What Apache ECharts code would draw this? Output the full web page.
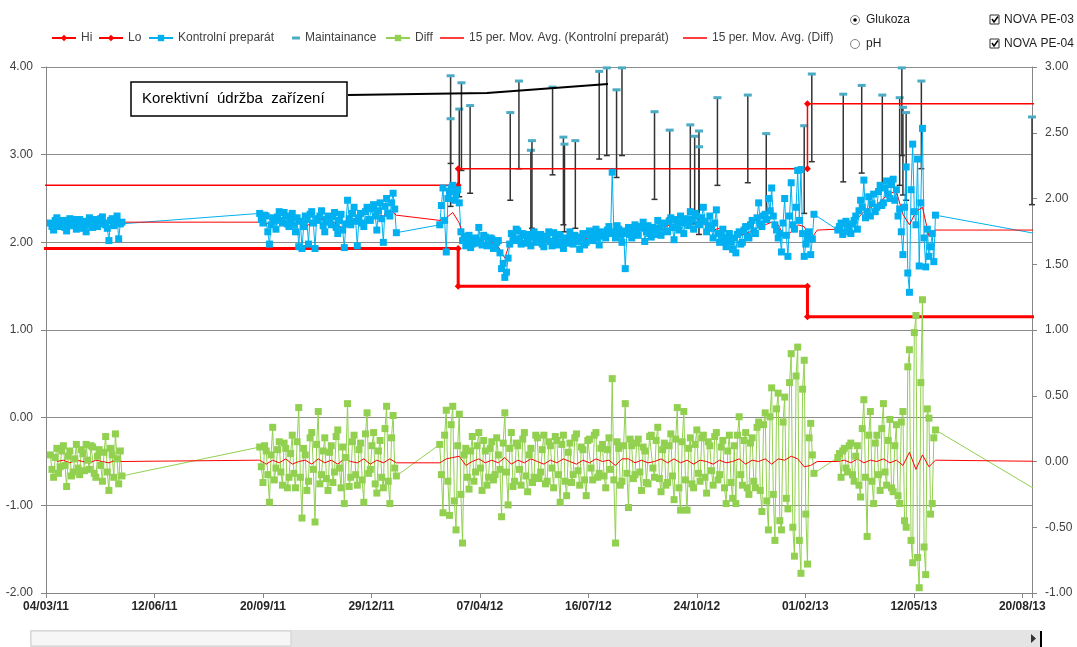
<!DOCTYPE html>
<html>
<head>
<meta charset="utf-8">
<script src="https://cdn.jsdelivr.net/npm/echarts@6/dist/echarts.min.js"></script>
<style>
  html, body { margin: 0; padding: 0; background: #fff; }
  #chart { width: 1077px; height: 647px; }
</style>
</head>
<body>
<div id="chart"></div>
<script>
// x is counted in days from the first axis tick (04/03/11)
const AXIS_START = '2011-03-04';
const AXIS_END = '2013-08-29';
const TICK_DAYS = 100;

// readings: one value every READ_STEP days, per measuring campaign
const READ_STEP = 1.5;
const readStarts = ['2011-03-08', '2011-09-17', '2012-03-01', '2013-03-03'];
const kp1 = [2.22, 2.18, 2.14, 2.25, 2.28, 2.21, 2.18, 2.24, 2.25, 2.17, 2.13, 2.22, 2.27, 2.19, 2.20, 2.26, 2.15, 2.21, 2.26, 2.16,
  2.19, 2.24, 2.12, 2.20, 2.28, 2.23, 2.17, 2.26, 2.25, 2.18, 2.21, 2.27, 2.29, 2.22, 2.20, 2.16, 2.02, 2.25, 2.27, 2.19,
  2.24, 2.30, 2.04, 2.21, 2.23];
const kp2 = [2.33, 2.26, 2.22, 2.31, 2.30, 2.12, 1.98, 2.20, 2.28, 2.24, 2.15, 2.29, 2.35, 2.25, 2.22, 2.34, 2.30, 2.21, 2.18, 2.27,
  2.33, 2.20, 2.12, 2.28, 1.95, 2.24, 1.93, 2.18, 2.30, 2.26, 1.98, 2.32, 2.35, 2.22, 1.93, 2.27, 2.25, 2.30, 2.36, 2.19,
  2.12, 2.26, 2.30, 2.23, 2.20, 2.29, 2.34, 2.17, 2.10, 2.25, 2.32, 2.14, 1.94, 2.21, 2.48, 2.27, 2.20, 2.33, 2.40, 2.24,
  1.96, 2.28, 2.33, 2.22, 2.18, 2.35, 2.40, 2.26, 2.25, 2.38, 2.43, 2.30, 2.14, 2.36, 2.45, 2.27, 2.00, 2.41, 2.50, 2.33,
  2.30, 2.45, 2.56, 2.38, 2.11];
const kp3 = [2.20, 2.42, 2.62, 2.25, 1.89, 2.50, 2.58, 2.62, 2.65, 2.48, 2.55, 2.60, 2.45, 2.12, 2.02, 2.07, 1.96, 2.01, 2.08, 1.94,
  1.98, 2.03, 2.05, 1.99, 2.17, 2.02, 1.97, 2.08, 2.06, 1.96, 1.99, 2.05, 2.04, 1.93, 1.95, 2.00, 2.02, 1.88, 1.70, 1.76,
  1.60, 1.66, 1.82, 1.98, 2.10, 2.05, 2.02, 2.15, 2.13, 2.04, 1.98, 2.10, 2.08, 1.99, 2.03, 2.09, 1.96, 2.06, 2.12, 2.01,
  2.00, 2.06, 2.09, 1.98, 1.95, 2.04, 2.07, 2.12, 2.01, 1.96, 2.11, 2.03, 1.97, 2.09, 2.08, 2.00, 1.93, 2.04, 2.05, 1.99,
  2.12, 2.04, 1.98, 2.08, 2.06, 2.01, 1.92, 2.05, 2.10, 1.97, 2.00, 2.09, 2.13, 2.06, 2.02, 2.11, 2.15, 2.05, 1.97, 2.08,
  2.12, 2.07, 2.05, 2.14, 2.18, 2.10, 2.80, 2.12, 2.05, 2.19, 2.15, 2.08, 2.00, 2.13, 1.70, 2.10, 2.17, 2.09, 2.05, 2.14,
  2.20, 2.11, 2.08, 2.18, 2.16, 2.23, 2.01, 2.12, 2.19, 2.10, 2.06, 2.17, 2.14, 2.09, 2.25, 2.16, 2.08, 2.21, 2.22, 2.13,
  2.12, 2.24, 2.28, 2.17, 2.03, 2.26, 2.20, 2.14, 2.30, 2.22, 2.10, 2.27, 2.25, 2.19, 2.35, 2.26, 2.15, 2.33, 2.30, 2.21,
  2.20, 2.28, 2.40, 2.24, 2.12, 2.19, 2.30, 2.16, 2.05, 2.22, 2.37, 2.10, 2.00, 2.08, 2.15, 2.02, 1.95, 2.06, 2.10, 2.00,
  1.92, 2.05, 1.88, 2.09, 2.12, 1.98, 2.00, 2.14, 2.18, 2.07, 2.05, 2.20, 2.25, 2.13, 2.10, 2.28, 2.45, 2.21, 2.18, 2.30,
  2.32, 2.26, 2.50, 2.36, 2.62, 2.30, 2.20, 2.14, 2.05, 2.10, 1.89, 2.22, 2.50, 2.08, 1.84, 2.30, 2.68, 2.20, 2.15, 2.40,
  2.82, 2.25, 2.83, 2.10, 1.84, 1.98, 2.05, 2.12, 1.86, 2.04, 2.32];
const kp4 = [2.14, 2.18, 2.22, 2.09, 2.12, 2.24, 2.20, 2.13, 2.10, 2.21, 2.25, 2.30, 2.15, 2.36, 2.48, 2.40, 2.71, 2.28, 2.35, 2.52,
  2.30, 2.44, 2.55, 2.35, 2.40, 2.58, 2.65, 2.42, 2.45, 2.62, 2.70, 2.55, 2.50, 2.66, 2.72, 2.48, 2.60, 2.30, 2.38, 2.12,
  1.86, 2.40, 2.86, 1.65, 1.43, 2.60, 3.12, 2.35, 2.20, 2.95, 1.73, 2.45, 3.30, 2.05, 1.72, 2.15, 1.84, 1.95, 2.10, 1.78,
  2.31];

const diff1 = [0.05, -0.06, -0.12, 0.03, 0.10, -0.09, -0.04, 0.08, 0.12, -0.03, -0.19, 0.04, 0.08, -0.11, -0.08, 0.02, 0.13, -0.05, -0.10, 0.09,
  0.06, -0.07, 0.13, 0.01, -0.06, 0.12, 0.11, -0.09, -0.12, 0.04, 0.09, -0.03, -0.15, 0.07, 0.19, -0.08, -0.22, 0.10, 0.05, -0.12,
  0.21, 0.02, -0.17, 0.08, -0.11];
const diff2 = [0.11, -0.04, -0.16, 0.12, 0.08, -0.10, -0.31, 0.05, 0.26, -0.14, -0.05, 0.09, 0.15, -0.08, -0.18, 0.14, 0.10, -0.20, -0.12, 0.06,
  0.20, -0.09, -0.20, 0.15, 0.41, -0.12, -0.43, 0.10, 0.05, -0.22, -0.15, 0.18, 0.22, -0.06, -0.46, 0.13, 0.38, -0.17, -0.10, 0.08,
  0.18, -0.13, -0.22, 0.07, 0.12, -0.16, -0.08, 0.19, 0.24, -0.05, -0.20, 0.11, -0.32, 0.03, 0.44, -0.19, -0.12, 0.15, 0.20, -0.10,
  -0.18, 0.09, 0.14, -0.14, -0.31, 0.21, 0.37, -0.09, -0.06, 0.12, 0.22, -0.17, -0.24, 0.08, 0.16, -0.12, -0.20, 0.25, 0.42, -0.15,
  -0.32, 0.18, 0.35, -0.05, -0.11];
const diff3 = [0.13, -0.10, -0.39, 0.20, 0.39, -0.15, -0.41, 0.28, 0.42, -0.30, -0.52, 0.12, 0.36, -0.25, -0.62, 0.05, 0.10, -0.12, -0.21, 0.08,
  0.19, -0.15, -0.08, 0.12, 0.22, -0.05, -0.22, 0.16, 0.08, -0.18, -0.12, 0.10, 0.15, -0.14, -0.10, 0.18, 0.05, -0.06, -0.42, 0.14,
  0.37, -0.08, -0.33, 0.10, 0.22, -0.19, -0.15, 0.14, 0.12, -0.06, -0.18, 0.17, 0.22, -0.11, -0.23, 0.05, 0.10, -0.16, -0.12, 0.20,
  0.18, -0.13, -0.08, 0.09, 0.20, -0.17, -0.15, 0.15, 0.12, -0.05, -0.20, 0.19, 0.16, -0.10, -0.31, 0.13, 0.20, -0.15, -0.26, 0.07,
  0.14, -0.16, -0.10, 0.18, 0.21, -0.07, -0.18, 0.11, 0.09, -0.14, -0.26, 0.16, 0.17, -0.05, -0.14, 0.20, 0.22, -0.12, -0.09, 0.10,
  0.13, -0.11, -0.20, 0.09, 0.18, -0.06, 0.63, -0.14, -0.62, 0.15, 0.10, -0.18, -0.15, 0.12, 0.44, -0.09, -0.35, 0.17, 0.12, -0.13,
  -0.10, 0.14, 0.17, -0.08, -0.22, 0.11, 0.08, -0.16, -0.17, 0.19, 0.20, -0.05, -0.12, 0.16, 0.26, -0.13, -0.23, 0.09, 0.14, -0.18,
  -0.16, 0.12, 0.21, -0.11, -0.29, 0.17, 0.41, -0.20, -0.37, 0.15, 0.38, -0.14, -0.37, 0.10, 0.18, -0.17, -0.20, 0.13, 0.24, -0.09,
  -0.15, 0.18, 0.20, -0.12, -0.24, 0.15, 0.12, -0.07, -0.18, 0.19, 0.22, -0.14, -0.10, 0.11, 0.16, -0.20, -0.32, 0.08, 0.20, -0.16,
  -0.28, 0.12, -0.32, 0.20, 0.34, -0.10, -0.18, 0.16, 0.22, -0.20, -0.25, 0.14, 0.18, -0.15, -0.20, 0.26, 0.30, -0.22, -0.38, 0.28,
  0.37, -0.30, -0.52, 0.34, 0.56, -0.25, -0.60, 0.40, 0.52, -0.45, -0.52, 0.30, 0.49, -0.28, -0.36, 0.60, 0.82, -0.50, -0.72, 0.65,
  0.87, -0.60, -0.85, 0.55, 0.77, -0.40, -0.78, 0.18, 0.29, 0.05, -0.09];
const diff4 = [0.03, 0.06, -0.12, 0.08, 0.10, -0.05, -0.08, 0.12, 0.14, -0.10, -0.15, 0.04, 0.12, -0.18, -0.27, 0.25, 0.47, -0.12, -0.57, 0.20,
  0.38, -0.15, -0.32, 0.14, 0.20, -0.10, -0.22, 0.25, 0.44, -0.08, -0.18, 0.16, 0.32, -0.20, -0.23, 0.12, 0.28, -0.26, -0.32, 0.30,
  0.38, -0.45, -0.50, 0.72, 0.85, -0.60, -0.77, 0.98, 1.11, -0.73, -0.96, 0.60, 1.23, -0.65, -0.86, 0.40, 0.33, -0.40, -0.32, 0.18,
  0.24];

// last reading lies past the end of the axis
const tailDate = '2013-09-19';
const kpTail = 2.06;
const diffTail = -0.30;

// 15 per. moving averages, read every MA_STEP days
const MA_STEP = 6;
const maStarts = ['2011-03-14', '2011-09-17', '2012-03-01', '2013-03-03'];
const kpMa1 = [2.20, 2.21, 2.20, 2.19, 2.20, 2.21, 2.22, 2.23, 2.22, 2.23, 2.23];
const kpMa2 = [2.23, 2.21, 2.24, 2.25, 2.27, 2.28, 2.22, 2.18, 2.22, 2.25, 2.27, 2.25, 2.20, 2.15, 2.24, 2.26, 2.23, 2.26, 2.32, 2.30, 2.37, 2.31];
const kpMa3 = [2.25, 2.28, 2.34, 2.22, 1.98, 1.99, 2.00, 1.98, 2.00, 1.95, 1.82, 2.05, 2.05, 2.04, 2.06, 2.05, 2.05, 2.04, 2.03, 2.03,
  2.02, 2.01, 2.03, 2.06, 2.09, 2.12, 2.12, 2.14, 2.10, 2.06, 2.15, 2.17, 2.20, 2.15, 2.14, 2.19, 2.21, 2.23, 2.25, 2.29,
  2.25, 2.18, 2.14, 2.16, 2.05, 2.05, 2.07, 2.10, 2.13, 2.17, 2.20, 2.23, 2.20, 2.06, 2.12, 2.20, 2.18, 2.03, 2.14];
const kpMa4 = [2.15, 2.18, 2.20, 2.27, 2.35, 2.40, 2.43, 2.50, 2.56, 2.58, 2.32, 2.20, 2.35, 2.40, 2.07, 2.14];
const kpMaTail = 2.14;
const diffMa1 = [0.00, 0.01, -0.01, 0.01, 0.00, -0.01, 0.01, 0.00, -0.01, 0.01, 0.00];
const diffMa2 = [0.01, -0.02, 0.01, -0.01, 0.02, -0.02, 0.00, 0.01, -0.02, 0.02, -0.01, 0.01, -0.02, 0.02, 0.00, -0.01, 0.02, -0.02, 0.01, -0.01, 0.02, -0.01];
const diffMa3 = [-0.01, 0.02, 0.03, 0.04, -0.03, 0.00, 0.02, -0.01, 0.01, -0.01, 0.03, -0.02, 0.01, -0.01, 0.02, 0.00, -0.02, 0.01, -0.01, 0.02,
  0.00, -0.02, 0.01, -0.01, 0.02, 0.00, 0.01, -0.03, 0.02, 0.02, -0.01, 0.01, -0.01, 0.00, 0.02, -0.01, 0.02, -0.01, 0.01, -0.02,
  0.01, 0.00, -0.02, 0.01, -0.01, 0.00, 0.02, -0.02, 0.01, 0.00, 0.02, -0.02, 0.02, 0.01, 0.04, 0.02, -0.04, -0.03, 0.00];
const diffMa4 = [0.00, 0.01, -0.01, 0.02, -0.01, 0.01, 0.00, 0.02, -0.01, 0.01, -0.03, 0.07, -0.06, 0.05, -0.04, 0.01];
const diffMaTail = 0.00;

// control limits (step lines)
const limitDates = ['2011-02-01', '2012-03-18', '2012-03-18', '2013-02-03', '2013-02-03', '2013-10-10'];
const hiValues = [2.65, 2.65, 2.84, 2.84, 3.58, 3.58];
const loValues = [1.93, 1.93, 1.50, 1.50, 1.15, 1.15];

// maintenance events, drawn with a 1.00 minus error bar
const maintDates = ['2012-03-11', '2012-03-11', '2012-03-19', '2012-03-21', '2012-03-29', '2012-05-05', '2012-05-13', '2012-05-24', '2012-05-25',
  '2012-06-13', '2012-06-23', '2012-06-24', '2012-07-04', '2012-07-26', '2012-08-02', '2012-08-11', '2012-08-16', '2012-09-15', '2012-09-29',
  '2012-10-18', '2012-10-22', '2012-10-26', '2012-10-26', '2012-11-12', '2012-12-10', '2012-12-27', '2013-01-31', '2013-02-07', '2013-03-08',
  '2013-03-25', '2013-04-13', '2013-04-29', '2013-05-01', '2013-05-02', '2013-05-05', '2013-05-19', '2013-08-29'];
const maintValues = [3.90, 3.41, 3.52, 3.82, 3.56, 3.48, 3.84, 3.05, 3.16, 3.77, 3.20, 3.12, 3.16, 3.95, 3.99, 3.74, 3.99, 3.49, 3.28,
  3.34, 3.21, 3.27, 3.09, 3.65, 3.68, 3.24, 3.33, 3.92, 3.69, 3.79, 3.68, 3.65, 3.99, 3.54, 3.48, 3.84, 3.43];
const maintErr = 1.0;

const legendNames = ['Hi', 'Lo', 'Kontrolní preparát', 'Maintainance', 'Diff', '15 per. Mov. Avg. (Kontrolní preparát)', '15 per. Mov. Avg. (Diff)'];
const legendLeft = [51, 98, 148, 292, 385, 440, 683];

const DAY_MS = 86400000;
const utc = s => { const [y, m, d] = s.split('-').map(Number); return Date.UTC(y, m - 1, d); };
const T0 = utc(AXIS_START);
const toDay = s => Math.round((utc(s) - T0) / DAY_MS);
const pad = n => (n < 10 ? '0' : '') + n;
function dayLabel(d) {
  if (d % TICK_DAYS) return '';
  const t = new Date(T0 + d * DAY_MS);
  return pad(t.getUTCDate()) + '/' + pad(t.getUTCMonth() + 1) + '/' + String(t.getUTCFullYear()).slice(2);
}
function stepped(starts, step, segs, tDate, tVal) {
  const pts = [];
  segs.forEach((vals, s) => {
    const d0 = toDay(starts[s]);
    vals.forEach((v, i) => pts.push([d0 + i * step, v]));
  });
  pts.push([toDay(tDate), tVal]);
  return pts;
}

const kpData = stepped(readStarts, READ_STEP, [kp1, kp2, kp3, kp4], tailDate, kpTail);
const diffData = stepped(readStarts, READ_STEP, [diff1, diff2, diff3, diff4], tailDate, diffTail);
const kpMaData = stepped(maStarts, MA_STEP, [kpMa1, kpMa2, kpMa3, kpMa4], tailDate, kpMaTail);
const diffMaData = stepped(maStarts, MA_STEP, [diffMa1, diffMa2, diffMa3, diffMa4], tailDate, diffMaTail);
const hiData = limitDates.map((d, i) => [toDay(d), hiValues[i]]);
const loData = limitDates.map((d, i) => [toDay(d), loValues[i]]);
const maintData = maintDates.map((d, i) => [toDay(d), maintValues[i]]);

const FONT = '"Liberation Sans", Arial, sans-serif';
const TEXT = '#404040';
const AXIS = '#868686';

function legendItem(name) {
  if (name === 'Maintainance') return { name, icon: 'rect', itemStyle: { color: '#4BACC6' } };
  if (name.startsWith('15 per.')) return { name, icon: 'rect', itemStyle: { color: '#FF0000' } };
  return name;
}

const chart = echarts.init(document.getElementById('chart'));
chart.setOption({
  animation: false,
  textStyle: { fontFamily: FONT },
  grid: { left: 46, right: 45, top: 67, bottom: 54 },
  legend: legendNames.map((name, i) => ({
    data: [legendItem(name)],
    left: legendLeft[i],
    top: 32,
    padding: 0,
    itemWidth: name === 'Maintainance' ? 8 : 24,
    itemHeight: name === 'Maintainance' ? 3 : (name.startsWith('15 per.') ? 1.5 : 8),
    selectedMode: false,
    textStyle: { fontSize: 12, color: TEXT, fontFamily: FONT }
  })),
  xAxis: {
    type: 'value',
    min: 0,
    max: toDay(AXIS_END),
    interval: TICK_DAYS,
    axisLine: { onZero: false, lineStyle: { color: AXIS } },
    axisTick: { length: 5, lineStyle: { color: AXIS } },
    splitLine: { show: false },
    axisLabel: { formatter: dayLabel, color: '#262626', fontWeight: 'bold', fontSize: 12, margin: 8 }
  },
  yAxis: [
    {
      type: 'value', min: -2, max: 4, interval: 1, position: 'left',
      axisLine: { show: true, onZero: false, lineStyle: { color: AXIS } },
      axisTick: { show: true, length: 5, lineStyle: { color: AXIS } },
      splitLine: { lineStyle: { color: '#8c8c8c' } },
      axisLabel: { formatter: v => v.toFixed(2), color: TEXT, fontSize: 12, margin: 13 }
    },
    {
      type: 'value', min: -1, max: 3, interval: 0.5, position: 'right',
      axisLine: { show: true, onZero: false, lineStyle: { color: AXIS } },
      axisTick: { show: true, length: 5, lineStyle: { color: AXIS } },
      splitLine: { show: false },
      axisLabel: { formatter: v => v.toFixed(2), color: TEXT, fontSize: 12, margin: 13 }
    }
  ],
  series: [
    {
      name: 'Hi', type: 'line', data: hiData, symbol: 'diamond', symbolSize: 7,
      lineStyle: { color: '#FF0000', width: 1.5 }, itemStyle: { color: '#FF0000' }
    },
    {
      name: 'Lo', type: 'line', data: loData, symbol: 'diamond', symbolSize: 7,
      lineStyle: { color: '#FF0000', width: 3 }, itemStyle: { color: '#FF0000' }
    },
    {
      name: 'Kontrolní preparát', type: 'line', data: kpData, symbol: 'rect', symbolSize: 7,
      lineStyle: { color: '#00B0F0', width: 1 }, itemStyle: { color: '#00B0F0' }
    },
    {
      name: 'Maintainance', type: 'custom', data: maintData, encode: { x: 0, y: 1 },
      itemStyle: { color: '#4BACC6' },
      renderItem: (params, api) => {
        const top = api.coord([api.value(0), api.value(1)]);
        const bot = api.coord([api.value(0), api.value(1) - maintErr]);
        return {
          type: 'group',
          children: [
            { type: 'line', shape: { x1: top[0], y1: top[1], x2: bot[0], y2: bot[1] }, style: { stroke: '#333', lineWidth: 1.5 } },
            { type: 'line', shape: { x1: bot[0] - 3, y1: bot[1], x2: bot[0] + 3, y2: bot[1] }, style: { stroke: '#333', lineWidth: 1.5 } },
            { type: 'rect', shape: { x: top[0] - 4, y: top[1] - 1.5, width: 8, height: 3 }, style: { fill: '#4BACC6' } }
          ]
        };
      }
    },
    {
      name: 'Diff', type: 'line', yAxisIndex: 1, data: diffData, symbol: 'rect', symbolSize: 7,
      lineStyle: { color: '#92D050', width: 1 }, itemStyle: { color: '#92D050' }
    },
    {
      name: '15 per. Mov. Avg. (Kontrolní preparát)', type: 'line', data: kpMaData, symbol: 'none',
      lineStyle: { color: '#FF0000', width: 1 }, itemStyle: { color: '#FF0000' }
    },
    {
      name: '15 per. Mov. Avg. (Diff)', type: 'line', yAxisIndex: 1, data: diffMaData, symbol: 'none',
      lineStyle: { color: '#FF0000', width: 1 }, itemStyle: { color: '#FF0000' }
    }
  ],
  graphic: [
    // annotation
    { type: 'polyline', shape: { points: [[348, 95], [487, 93], [608, 84]] }, style: { stroke: '#000', lineWidth: 2, fill: null }, z: 100 },
    { type: 'rect', shape: { x: 131, y: 82, width: 216, height: 34 }, style: { fill: '#fff', stroke: '#000', lineWidth: 1.5 }, z: 100 },
    { type: 'text', x: 142, y: 99, style: { text: 'Korektivní  údržba  zařízení', font: '15px ' + FONT, fill: '#000', verticalAlign: 'middle' }, z: 101 },
    // option buttons
    { type: 'circle', shape: { cx: 855, cy: 20, r: 4.5 }, style: { fill: '#fff', stroke: '#808080', lineWidth: 1 } },
    { type: 'circle', shape: { cx: 855, cy: 20, r: 1.8 }, style: { fill: '#000' } },
    { type: 'text', x: 866, y: 20, style: { text: 'Glukoza', font: '12px ' + FONT, fill: '#1f1f1f', verticalAlign: 'middle' } },
    { type: 'circle', shape: { cx: 855, cy: 44, r: 4.5 }, style: { fill: '#fff', stroke: '#808080', lineWidth: 1 } },
    { type: 'text', x: 866, y: 44, style: { text: 'pH', font: '12px ' + FONT, fill: '#1f1f1f', verticalAlign: 'middle' } },
    // check boxes
    { type: 'rect', shape: { x: 990, y: 15, width: 9, height: 9 }, style: { fill: '#fff', stroke: '#333', lineWidth: 1 } },
    { type: 'polyline', shape: { points: [[992, 19], [994, 22], [998, 16.5]] }, style: { stroke: '#000', lineWidth: 1.5, fill: null } },
    { type: 'text', x: 1004, y: 20, style: { text: 'NOVA PE-03', font: '12px ' + FONT, fill: '#1f1f1f', verticalAlign: 'middle' } },
    { type: 'rect', shape: { x: 990, y: 39, width: 9, height: 9 }, style: { fill: '#fff', stroke: '#333', lineWidth: 1 } },
    { type: 'polyline', shape: { points: [[992, 43], [994, 46], [998, 40.5]] }, style: { stroke: '#000', lineWidth: 1.5, fill: null } },
    { type: 'text', x: 1004, y: 44, style: { text: 'NOVA PE-04', font: '12px ' + FONT, fill: '#1f1f1f', verticalAlign: 'middle' } },
    // scroll bar
    { type: 'rect', shape: { x: 30, y: 630, width: 1010, height: 17 }, style: { fill: '#e4e4e4' } },
    { type: 'rect', shape: { x: 31, y: 631, width: 260, height: 15 }, style: { fill: '#f6f6f6', stroke: '#cfcfcf', lineWidth: 1 } },
    { type: 'polygon', shape: { points: [[1031, 634], [1031, 643], [1036, 638.5]] }, style: { fill: '#333' } },
    { type: 'rect', shape: { x: 1040, y: 631, width: 2, height: 16 }, style: { fill: '#000' } }
  ]
});
</script>
</body>
</html>
